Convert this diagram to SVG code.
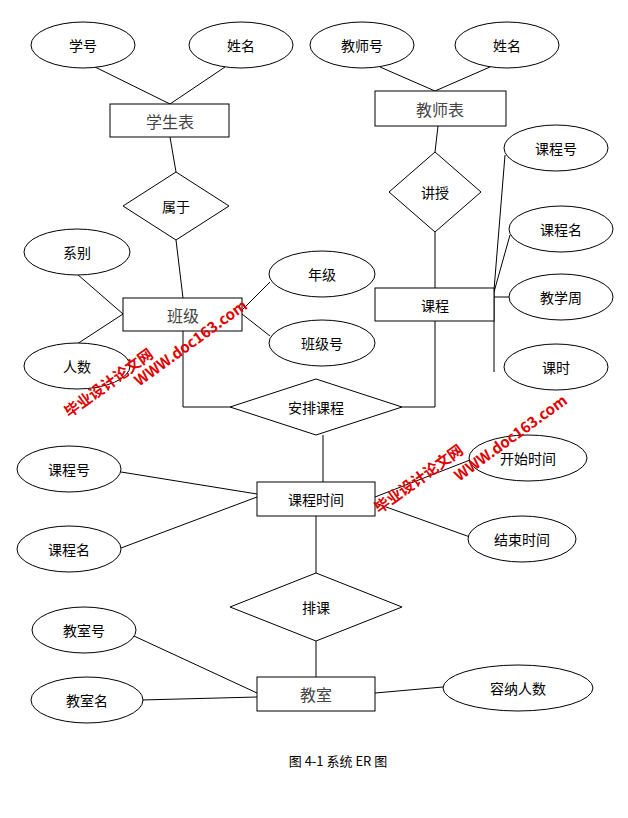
<svg xmlns="http://www.w3.org/2000/svg" width="628" height="818" viewBox="0 0 628 818">
<style>
.n ellipse,.n rect,.n polygon{fill:#fff;stroke:#000;stroke-width:1}
text{font-family:"Noto Sans CJK SC","Liberation Sans",sans-serif;font-size:14px;text-anchor:middle;dominant-baseline:central;fill:#000}
.big{font-size:16px;fill:#444}
.c line,.c polyline{stroke:#000;stroke-width:1;fill:none}
.wm{fill:#e00000;font-weight:bold;font-size:15px}
</style>
<rect width="628" height="818" fill="#fff"/>
<g class="c">
<line x1="95" y1="67" x2="170" y2="104"/><line x1="225" y1="67" x2="170" y2="104"/>
<line x1="170" y1="137" x2="176" y2="172"/><line x1="176" y1="240" x2="183" y2="298"/>
<line x1="77" y1="274" x2="123" y2="314"/><line x1="77" y1="344" x2="123" y2="314"/>
<line x1="270" y1="282" x2="242" y2="310"/><line x1="270" y1="336" x2="242" y2="314"/>
<line x1="380" y1="67" x2="435" y2="91"/><line x1="490" y1="67" x2="435" y2="91"/>
<line x1="438" y1="126" x2="435" y2="152"/><line x1="435" y1="232" x2="435" y2="288"/>
<line x1="505" y1="155" x2="494" y2="290"/><line x1="510" y1="235" x2="494" y2="292"/>
<line x1="509" y1="297" x2="494" y2="297"/><line x1="494" y1="288" x2="494" y2="372"/>
<polyline points="183,331 183,407 230,407"/><polyline points="435,321 435,407 402,407"/>
<line x1="323" y1="435" x2="323" y2="482"/>
<line x1="121" y1="472" x2="257" y2="494"/><line x1="121" y1="548" x2="257" y2="497"/>
<line x1="470" y1="460" x2="375" y2="497"/><line x1="470" y1="537" x2="375" y2="503"/>
<line x1="316" y1="516" x2="316" y2="573"/><line x1="316" y1="641" x2="316" y2="677"/>
<line x1="134" y1="636" x2="257" y2="693"/><line x1="141" y1="700" x2="257" y2="697"/>
<line x1="443" y1="687" x2="375" y2="693"/>
</g>
<g id="xuehao" class="n"><ellipse cx="83" cy="45" rx="52" ry="23"/><text x="83" y="45">学号</text></g>
<g id="xm1" class="n"><ellipse cx="241" cy="45" rx="52" ry="23"/><text x="241" y="45">姓名</text></g>
<g id="xsb" class="n"><rect x="110" y="104" width="119" height="33"/><text class="big" x="170" y="121">学生表</text></g>
<g id="jsh" class="n"><ellipse cx="362" cy="45" rx="52" ry="23"/><text x="362" y="45">教师号</text></g>
<g id="xm2" class="n"><ellipse cx="507" cy="45" rx="52" ry="23"/><text x="507" y="45">姓名</text></g>
<g id="jsb" class="n"><rect x="375" y="91" width="131" height="35"/><text class="big" x="440" y="109">教师表</text></g>
<g id="sy" class="n"><polygon points="176,172 229,206 176,240 123,206"/><text x="176" y="206">属于</text></g>
<g id="js" class="n"><polygon points="435,152 481,192 435,232 389,192"/><text x="435" y="192">讲授</text></g>
<g id="xb" class="n"><ellipse cx="77" cy="252" rx="53" ry="23"/><text x="77" y="252">系别</text></g>
<g id="rs" class="n"><ellipse cx="77" cy="366" rx="53" ry="23"/><text x="77" y="366">人数</text></g>
<g id="bj" class="n"><rect x="123" y="298" width="119" height="33"/><text class="big" x="183" y="315">班级</text></g>
<g id="nj" class="n"><ellipse cx="322" cy="274" rx="53" ry="23"/><text x="322" y="274">年级</text></g>
<g id="bjh" class="n"><ellipse cx="322" cy="343" rx="53" ry="23"/><text x="322" y="343">班级号</text></g>
<g id="kc" class="n"><rect x="375" y="288" width="119" height="33"/><text x="435" y="305">课程</text></g>
<g id="kch1" class="n"><ellipse cx="556" cy="148" rx="52" ry="23"/><text x="556" y="148">课程号</text></g>
<g id="kcm1" class="n"><ellipse cx="561" cy="229" rx="52" ry="23"/><text x="561" y="229">课程名</text></g>
<g id="jxz" class="n"><ellipse cx="561" cy="297" rx="52" ry="23"/><text x="561" y="297">教学周</text></g>
<g id="ks" class="n"><ellipse cx="556" cy="367" rx="52" ry="23"/><text x="556" y="367">课时</text></g>
<g id="apkc" class="n"><polygon points="316,379 402,407 316,435 230,407"/><text x="316" y="407">安排课程</text></g>
<g id="kcsj" class="n"><rect x="257" y="482" width="118" height="34"/><text x="316" y="499">课程时间</text></g>
<g id="kch2" class="n"><ellipse cx="69" cy="469" rx="52" ry="23"/><text x="69" y="469">课程号</text></g>
<g id="kcm2" class="n"><ellipse cx="69" cy="549" rx="52" ry="23"/><text x="69" y="549">课程名</text></g>
<g id="kssj" class="n"><ellipse cx="528" cy="458" rx="59" ry="23"/><text x="528" y="458">开始时间</text></g>
<g id="jssj" class="n"><ellipse cx="522" cy="539" rx="54" ry="23"/><text x="522" y="539">结束时间</text></g>
<g id="pk" class="n"><polygon points="316,573 402,607 316,641 230,607"/><text x="316" y="607">排课</text></g>
<g id="jsh2" class="n"><ellipse cx="84" cy="630" rx="52" ry="23"/><text x="84" y="630">教室号</text></g>
<g id="jsm" class="n"><ellipse cx="87" cy="700" rx="56" ry="23"/><text x="87" y="700">教室名</text></g>
<g id="jiaoshi" class="n"><rect x="257" y="677" width="118" height="34"/><text class="big" x="316" y="694">教室</text></g>
<g id="rnrs" class="n"><ellipse cx="518" cy="688" rx="75" ry="23"/><text x="518" y="688">容纳人数</text></g>
<text x="338" y="760" style="font-size:13px;font-family:'Noto Sans CJK SC','Liberation Mono',monospace">图 4-1 系统 ER 图</text>
<g class="watermark">
<text class="wm" transform="translate(108,382) rotate(-36)">毕业设计论文网</text>
<text class="wm" transform="translate(190,342) rotate(-36)">WWW.doc163.com</text>
<text class="wm" transform="translate(418,478) rotate(-36)">毕业设计论文网</text>
<text class="wm" transform="translate(510,437) rotate(-36)">WWW.doc163.com</text>
</g>
</svg>
